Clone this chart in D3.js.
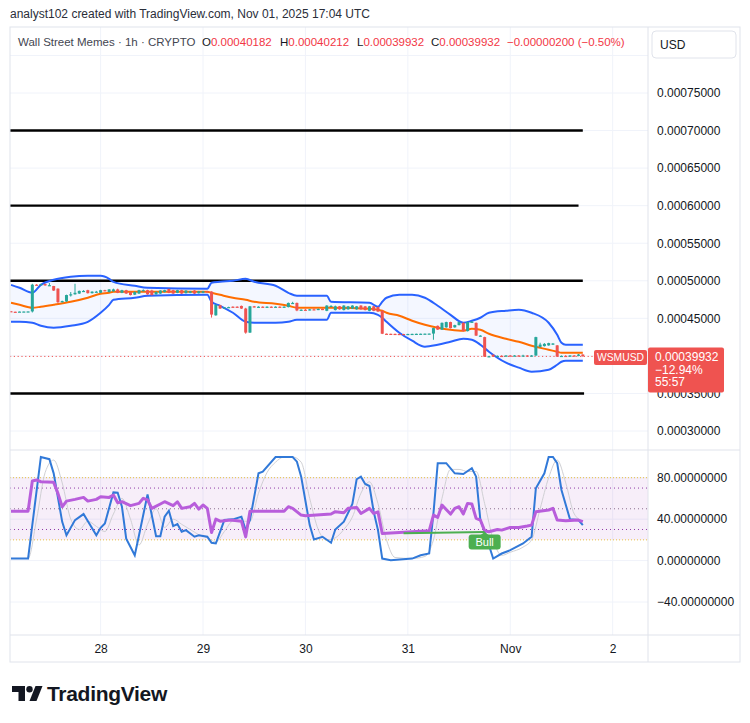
<!DOCTYPE html>
<html>
<head>
<meta charset="utf-8">
<script src="https://cdn.jsdelivr.net/npm/d3@7"></script>
<style>
	body { margin: 0; background: #fff; font-family: "Liberation Sans", Arial, sans-serif; }
	svg text { font-family: "Liberation Sans", Arial, sans-serif; }
</style>
</head>
<body>
<script>
'use strict';

// header texts
var creditText = 'analyst102 created with TradingView.com, Nov 01, 2025 17:04 UTC',
	symbolName = 'Wall Street Memes \u00b7 1h \u00b7 CRYPTO',
	ohlcLabels = ['O', 'H', 'L', 'C'],
	ohlcValues = ['0.00040182', '0.00040212', '0.00039932', '0.00039932'],
	changeText = '\u22120.00000200 (\u22120.50%)',
	lastLabel = ['0.00039932', '\u221212.94%', '55:57'],
	lastPrice = 39932;

// hourly bars, first one at Oct 27 03:00 UTC. prices in 1e-8 USD: [open, high, low, close]
var firstBar = Date.UTC(2025, 9, 27, 3);
var candles = [
	[45950,45980,45870,45880],[45880,45900,45860,45870],[45870,45920,45860,45900],[45900,45930,45880,45910],
	[45910,45940,45890,45920],[45920,49600,45780,49480],[49480,49560,49400,49430],[49430,49600,49400,49560],
	[49560,49620,49350,49380],[49380,49700,49330,49420],[49300,49320,48650,48700],[48950,49000,47000,47150],
	[47150,47350,47100,47300],[47250,48150,47200,48100],[48100,48500,47900,48200],[48200,49600,48150,48400],
	[48300,48700,48250,48650],[48600,48750,48500,48650],[48750,48800,48300,48350],[48350,48600,48300,48550],
	[48500,48650,48450,48550],[48400,48800,48350,48750],[48750,48800,48600,48650],[48500,48900,48450,48850],
	[48600,48950,48550,48850],[48850,48950,48350,48400],[48400,48800,48350,48750],[48750,48800,48250,48300],
	[48500,48550,48050,48100],[48150,48600,48100,48500],[48300,48800,48250,48750],[48700,48850,48650,48750],
	[48750,48800,48150,48200],[48700,48800,48050,48100],[48200,48600,48150,48500],[48300,48750,48250,48700],
	[48500,48800,48450,48750],[48900,48950,48350,48400],[48750,48800,48250,48300],[48400,48800,48350,48750],
	[48750,48800,48250,48300],[48350,48750,48300,48700],[48400,48650,48350,48600],[48700,48750,48250,48300],
	[48350,48650,48300,48600],[48400,48650,48350,48600],[48600,48650,48500,48550],[48550,48600,45100,45500],
	[45400,46850,45350,46800],[46750,46800,46250,46300],[46400,46500,46350,46450],[46450,46550,46400,46500],
	[46550,46600,46450,46500],[46550,46600,46450,46500],[46650,46700,46250,46300],[46300,46400,42950,43100],
	[43100,46650,43050,46600],[46600,46650,46450,46500],[46500,46600,46450,46550],[46550,46600,46450,46500],
	[46500,46600,46450,46550],[46550,46600,46450,46500],[46500,46600,46450,46550],[46550,46600,46450,46500],
	[46500,46600,46450,46550],[46500,47100,46450,47050],[47000,47200,46950,47050],[47050,47100,45950,46050],
	[46050,46200,46000,46150],[46150,46250,46050,46100],[46100,46250,46050,46200],[46200,46300,46100,46150],
	[46150,46300,46100,46250],[46250,46300,46100,46150],[46000,46750,45950,46700],[46600,46750,46550,46650],
	[46100,46700,46050,46600],[46600,46650,46150,46200],[46100,46750,46050,46700],[46200,46650,46150,46600],
	[46300,46750,46250,46700],[46200,46650,46150,46600],[46700,46750,46150,46200],[46600,46650,46050,46100],
	[46000,46650,45950,46600],[46600,46650,45950,46000],[46500,46550,45850,45900],[46000,46050,42900,42950],
	[42950,42980,42920,42940],[42940,42960,42920,42930],[42930,42960,42900,42920],[42920,42950,42900,42910],
	[42910,42940,42890,42900],[42900,42940,42890,42920],[42920,42950,42900,42930],[42930,42960,42910,42940],
	[42940,42970,42920,42950],[42950,42980,42930,42960],[42960,42990,42940,42970],[42970,43750,42150,43700],
	[44000,44050,43450,43500],[43500,44450,43450,44400],[43800,44550,43750,44500],[44500,44550,43650,43700],
	[43800,44150,43750,44100],[44100,44550,44050,44500],[44400,44450,43250,43300],[43300,44550,43250,44500],
	[44500,44650,44450,44550],[44400,44450,42650,42700],[42650,42750,42600,42700],[42500,42550,39850,39900],
	[39900,40000,39850,39950],[40150,40200,39850,39900],[39900,40050,39850,40000],[40000,40100,39950,39950],
	[39950,40100,39900,40050],[40050,40100,39950,40000],[40000,40100,39950,40050],[40050,40100,39950,40000],
	[40000,40150,39950,40050],[40050,40100,39950,40000],[40000,40100,39950,40050],[40050,42550,40000,42500],
	[41200,41750,41100,41500],[41300,41700,41250,41600],[41400,41750,41350,41700],[41600,41700,41450,41650],
	[41400,41450,39850,39900],[39900,40050,39850,40000],[40000,40100,39900,39950],[39950,40100,39900,40050],
	[40050,40100,39950,40000],[40000,40250,39950,40182],[40182,40212,39932,39932]
];

// bollinger bands at these bars
var bandBars = [0,2,5,7,10,14,18,21,23,24,29,32,46,47,49,52,55,57,62,65,67,74,75,84,86,87,88,91,94,97,100,103,106,108,110,112,116,119,122,126,128,129,130,134];
var bandUpper = [49460,49070,48400,49460,50130,50530,50660,50660,50260,49860,49330,49070,48930,49730,49860,
	50000,50260,49860,49330,48400,48000,48000,47200,47070,46540,47200,47740,48130,48130,47740,
	46670,45470,44410,44680,45080,45740,46010,46140,45740,44410,42810,41750,41480,41480];
var bandBasis = [47070,46800,46410,46540,46800,47200,47740,48270,48400,48530,48530,48530,48530,48400,48130,
	47740,47470,47200,46940,46670,46410,46410,46410,46270,46140,46010,45740,45340,44680,44140,
	43750,43480,43350,43610,43480,42950,42280,41880,41350,40820,40550,40420,40420,40420];
var bandLower = [44540,44540,44410,44010,43750,44010,44540,45740,46800,47470,47740,48000,48130,47200,46670,
	45740,44540,44410,44410,44540,44810,44810,45740,45740,45470,45080,44540,43080,42020,41220,
	41480,41880,42280,42150,41480,40550,39090,38430,37890,38160,38820,39220,39360,39360];

// horizontal levels drawn by the author: price and last bar they reach
var levelPrices = [70000, 60000, 50000, 35000],
	levelEnds = [134, 133, 134, 134.3];

// oscillator pane: [bar, value]
var rsiPoints = [[0,47.7],[4,47.7],[5,76.8],[6,77.8],[7,76.1],[10,75.5],[11,64.9],[12,51.9],[13,57.4],[15,59.1],
	[17,61],[18,57.4],[20,59.1],[21,61.6],[23,61],[24,63.3],[25,55.9],[26,56.8],[28,53],[30,55.2],[31,60.1],
	[32,58.5],[33,50.4],[35,54.6],[36,56.8],[38,53],[39,56.8],[40,50.4],[42,52],[43,55.2],[44,49.7],[45,53.6],
	[46,50.4],[47,27.1],[48,40],[49,38],[51,39],[52,39],[54,38],[55,22.9],[56,47.7],[64,47.7],[65,52],[66,50.4],
	[68,43.9],[69,43.3],[75,44.9],[76,47.2],[78,46.2],[79,50.4],[81,51.3],[82,45.5],[84,50.4],[85,45.5],[86,47],
	[87,26.1],[98,28.7],[99,43.9],[100,41.7],[101,53.6],[103,44.9],[104,50.4],[105,52],[106,44.9],[107,55.2],
	[108,54.6],[109,40.7],[110,39.1],[111,28.7],[112,27.8],[114,30],[115,29.4],[117,32],[119,32],[121,33.3],
	[122,34.2],[123,47.1],[126,48.8],[127,50.4],[128,39.1],[130,38.5],[133,39.1],[134,37.5]];
var kPoints = [[0,1.9],[4,1.9],[7,100],[9,97.9],[10,84.2],[12,37.4],[13,24.5],[15,39.1],[17,44.9],[20,24.5],
	[21,31.6],[22,35.8],[24,65.8],[25,65.5],[26,51.9],[27,21.2],[29,5.1],[30,24.5],[32,63.9],[34,23.5],[35,23.5],
	[36,42.3],[37,48.1],[38,33.3],[39,35.2],[40,27.8],[41,29.4],[43,23],[44,24.5],[46,23],[47,17.2],[48,16.5],
	[50,39.1],[52,39.8],[54,42.3],[55,29.4],[56,39.1],[58,84.2],[59,85.8],[62,100],[66,100],[67,95.5],[68,81],
	[70,34.2],[71,20.3],[73,23],[75,17.2],[76,30],[78,37.5],[80,54.6],[81,78.5],[82,81],[83,74],[84,72],[85,47.1],
	[86,29.4],[87,1.9],[89,0.3],[94,1.9],[96,5.1],[98,6.8],[99,45.5],[100,94],[102,94],[104,84.2],[106,83.6],
	[108,89.1],[109,81],[110,39.1],[111,27.8],[113,1.9],[115,6.8],[117,10],[120,16.5],[122,23],[123,69.8],
	[125,84.2],[126,100],[127,100],[128,94],[129,68.2],[131,39.8],[133,39.1],[134,34.2]];
var dPoints = [[0,2],[4,2],[6,40],[8,85],[10,97],[12,75],[14,40],[16,30],[18,38],[20,33],[22,28],[24,45],
	[26,60],[28,40],[30,15],[32,35],[34,50],[36,32],[38,40],[40,35],[42,30],[44,25],[46,22],[48,18],[50,28],
	[52,38],[54,38],[56,38],[58,65],[60,85],[62,95],[64,100],[66,100],[68,95],[70,60],[72,30],[74,20],[76,22],
	[78,30],[80,42],[82,65],[84,76],[86,55],[88,20],[90,3],[94,2],[97,4],[99,20],[101,60],[103,88],[105,88],
	[107,86],[109,86],[111,55],[113,20],[115,5],[117,8],[120,13],[122,20],[124,50],[126,80],[128,97],[130,75],
	[132,45],[134,38]];
var divergence = [[92,26.3],[111,27.6]];

// axis ticks (0.00040000 sits under the last price box and is not shown)
var priceTicks = [30000,35000,45000,50000,55000,60000,65000,70000,75000],
	priceGrid = [30000,35000,40000,45000,50000,55000,60000,65000,70000,75000,80000],
	oscTicks = [80, 40, 0, -40],
	oscLevels = [70, 50, 30],
	oscFillLevels = [80, 20],
	dayTicks = [Date.UTC(2025,9,28), Date.UTC(2025,9,29), Date.UTC(2025,9,30),
		Date.UTC(2025,9,31), Date.UTC(2025,10,1), Date.UTC(2025,10,2)],
	dayLabels = ['28', '29', '30', '31', 'Nov', '2'];

var colors = {
	up: '#26a69a', down: '#ef5350', band: '#2962ff', basis: '#ff6d00',
	rsi: '#b85ddb', k: '#3179d8', d: '#d0d0d4', grid: '#f0f3fa', border: '#e0e3eb', text: '#131722'
};

// layout
var frame = {left: 10, right: 740, top: 27, bottom: 662},
	axisX = 648,
	paneSplit = 450,
	timeTop = 635,
	legendX = [202, 280, 357, 431, 507];

function barDate(i) { return new Date(firstBar + i * 3600e3); }

var x = d3.scaleUtc()
	.domain([barDate(0), barDate(134)])
	.range([11, 582.8]);

var y = d3.scaleLinear()
	.domain([30000, 75000])
	.range([431, 93]);

var yOsc = d3.scaleLinear()
	.domain([-40, 80])
	.range([602, 477.7]);

var svg = d3.select('body').append('svg')
	.attr('width', 750)
	.attr('height', 723);

var defs = svg.append('defs');
defs.append('clipPath').attr('id', 'clipPrice').append('rect')
	.attr('x', frame.left).attr('y', frame.top)
	.attr('width', axisX - frame.left).attr('height', paneSplit - frame.top);
defs.append('clipPath').attr('id', 'clipOsc').append('rect')
	.attr('x', frame.left).attr('y', paneSplit)
	.attr('width', axisX - frame.left).attr('height', timeTop - paneSplit);

// credit line
svg.append('text')
	.attr('x', 10).attr('y', 18)
	.attr('font-size', 12).attr('fill', '#2a2e39')
	.text(creditText);

/*
* Grid lines of both panes.
*/
var grid = svg.append('g');

grid.selectAll('.hgrid')
	.data(priceGrid).enter()
	.append('line')
		.attr('x1', frame.left).attr('x2', axisX)
		.attr('y1', function(d) { return y(d); })
		.attr('y2', function(d) { return y(d); })
		.attr('stroke', colors.grid);

grid.selectAll('.ogrid')
	.data(oscTicks).enter()
	.append('line')
		.attr('x1', frame.left).attr('x2', axisX)
		.attr('y1', function(d) { return yOsc(d); })
		.attr('y2', function(d) { return yOsc(d); })
		.attr('stroke', colors.grid);

grid.selectAll('.vgrid')
	.data(dayTicks).enter()
	.append('line')
		.attr('x1', function(d) { return x(d); })
		.attr('x2', function(d) { return x(d); })
		.attr('y1', frame.top).attr('y2', timeTop)
		.attr('stroke', colors.grid);

/*
* Price pane.
*/
var price = svg.append('g').attr('clip-path', 'url(#clipPrice)');

var bands = bandBars.map(function(b, i) {
	return {t: barDate(b), u: bandUpper[i], m: bandBasis[i], l: bandLower[i]};
});

price.append('path')
	.datum(bands)
	.attr('fill', 'rgba(41,98,255,0.05)')
	.attr('d', d3.area().curve(d3.curveMonotoneX)
		.x(function(d) { return x(d.t); })
		.y0(function(d) { return y(d.l); })
		.y1(function(d) { return y(d.u); }));

// author's horizontal lines
price.selectAll('.level')
	.data(levelPrices).enter()
	.append('line')
		.attr('x1', frame.left)
		.attr('x2', function(d, i) { return x(barDate(levelEnds[i])); })
		.attr('y1', function(d) { return y(d); })
		.attr('y2', function(d) { return y(d); })
		.attr('stroke', '#000')
		.attr('stroke-width', 2.4);

['u', 'l'].forEach(function(key) {
	price.append('path')
		.datum(bands)
		.attr('fill', 'none')
		.attr('stroke', colors.band)
		.attr('stroke-width', 2)
		.attr('d', d3.line().curve(d3.curveMonotoneX)
			.x(function(d) { return x(d.t); })
			.y(function(d) { return y(d[key]); }));
});

price.append('path')
	.datum(bands)
	.attr('fill', 'none')
	.attr('stroke', colors.basis)
	.attr('stroke-width', 2)
	.attr('d', d3.line().curve(d3.curveMonotoneX)
		.x(function(d) { return x(d.t); })
		.y(function(d) { return y(d.m); }));

// last price dotted line
price.append('line')
	.attr('x1', frame.left).attr('x2', axisX)
	.attr('y1', y(lastPrice)).attr('y2', y(lastPrice))
	.attr('stroke', colors.down)
	.attr('stroke-dasharray', '1.2,2.6');

var candle = price.selectAll('.candle')
	.data(candles).enter()
	.append('g')
		.attr('fill', function(d) { return d[3] >= d[0] ? colors.up : colors.down; })
		.attr('stroke', function(d) { return d[3] >= d[0] ? colors.up : colors.down; });

candle.append('line')
	.attr('x1', function(d, i) { return x(barDate(i)); })
	.attr('x2', function(d, i) { return x(barDate(i)); })
	.attr('y1', function(d) { return y(d[1]); })
	.attr('y2', function(d) { return y(d[2]); })
	.attr('stroke-width', 1);

candle.append('rect')
	.attr('stroke', 'none')
	.attr('x', function(d, i) { return x(barDate(i)) - 1.5; })
	.attr('width', 3)
	.attr('y', function(d) { return y(Math.max(d[0], d[3])); })
	.attr('height', function(d) { return Math.max(1.2, Math.abs(y(d[0]) - y(d[3]))); });

/*
* Oscillator pane.
*/
var osc = svg.append('g').attr('clip-path', 'url(#clipOsc)');

osc.append('rect')
	.attr('x', frame.left).attr('width', axisX - frame.left)
	.attr('y', yOsc(oscFillLevels[0]))
	.attr('height', yOsc(oscFillLevels[1]) - yOsc(oscFillLevels[0]))
	.attr('fill', 'rgba(156,39,176,0.08)');

osc.selectAll('.fillLevel')
	.data(oscFillLevels).enter()
	.append('line')
		.attr('x1', frame.left).attr('x2', axisX)
		.attr('y1', function(d) { return yOsc(d); })
		.attr('y2', function(d) { return yOsc(d); })
		.attr('stroke', '#e8c040')
		.attr('stroke-dasharray', '1,2');

osc.selectAll('.oscLevel')
	.data(oscLevels).enter()
	.append('line')
		.attr('x1', frame.left).attr('x2', axisX)
		.attr('y1', function(d) { return yOsc(d); })
		.attr('y2', function(d) { return yOsc(d); })
		.attr('stroke', function(d) { return d == 50 ? '#8a6d8e' : '#8e3ba6'; })
		.attr('stroke-dasharray', '1,3');

var oscLine = d3.line()
	.x(function(d) { return x(barDate(d[0])); })
	.y(function(d) { return yOsc(d[1]); });

osc.append('path').datum(dPoints)
	.attr('fill', 'none').attr('stroke', colors.d).attr('stroke-width', 1)
	.attr('d', oscLine.curve(d3.curveMonotoneX));

osc.append('path').datum(kPoints)
	.attr('fill', 'none').attr('stroke', colors.k).attr('stroke-width', 2)
	.attr('d', oscLine.curve(d3.curveLinear));

osc.append('path').datum(rsiPoints)
	.attr('fill', 'none').attr('stroke', colors.rsi).attr('stroke-width', 3)
	.attr('stroke-linejoin', 'round')
	.attr('d', oscLine);

osc.append('path').datum(divergence)
	.attr('fill', 'none').attr('stroke', '#4caf50').attr('stroke-width', 2)
	.attr('d', oscLine);

// bull label under the divergence end
var bullX = x(barDate(divergence[1][0])),
	bullY = yOsc(divergence[1][1]);

osc.append('path')
	.attr('d', 'M' + (bullX - 4) + ',' + (bullY + 3) + 'l4,-3l4,3z')
	.attr('fill', '#4caf50');
osc.append('rect')
	.attr('x', bullX - 16).attr('y', bullY + 2.5)
	.attr('width', 32).attr('height', 15).attr('rx', 3)
	.attr('fill', '#4caf50');
osc.append('text')
	.attr('x', bullX).attr('y', bullY + 14)
	.attr('text-anchor', 'middle')
	.attr('font-size', 11).attr('fill', '#fff')
	.text('Bull');

/*
* Axes, frame and labels.
*/
function styleAxis(g) {
	g.select('.domain').remove();
	g.selectAll('text')
		.attr('font-size', 12)
		.attr('fill', colors.text)
		.style('font-family', '"Liberation Sans", Arial, sans-serif');
}

svg.append('g')
	.attr('transform', 'translate(' + axisX + ',0)')
	.call(d3.axisRight(y).tickValues(priceTicks).tickSize(0).tickPadding(9)
		.tickFormat(function(d) { return (d / 1e8).toFixed(8); }))
	.call(styleAxis);

svg.append('g')
	.attr('transform', 'translate(' + axisX + ',0)')
	.call(d3.axisRight(yOsc).tickValues(oscTicks).tickSize(0).tickPadding(9)
		.tickFormat(function(d) { return d.toFixed(8).replace('-', '\u2212'); }))
	.call(styleAxis);

svg.append('g')
	.attr('transform', 'translate(0,' + timeTop + ')')
	.call(d3.axisBottom(x).tickValues(dayTicks.map(function(d) { return new Date(d); }))
		.tickSize(0).tickPadding(9)
		.tickFormat(function(d, i) { return dayLabels[i]; }))
	.call(styleAxis);

var frameG = svg.append('g').attr('stroke', colors.border).attr('fill', 'none');
frameG.append('rect')
	.attr('x', frame.left).attr('y', frame.top)
	.attr('width', frame.right - frame.left).attr('height', frame.bottom - frame.top);
frameG.append('line')
	.attr('x1', axisX).attr('x2', axisX).attr('y1', frame.top).attr('y2', frame.bottom);
frameG.append('line')
	.attr('x1', frame.left).attr('x2', frame.right).attr('y1', paneSplit).attr('y2', paneSplit);
frameG.append('line')
	.attr('x1', frame.left).attr('x2', frame.right).attr('y1', timeTop).attr('y2', timeTop);

// currency box
svg.append('rect')
	.attr('x', 652).attr('y', 31).attr('width', 84).attr('height', 27).attr('rx', 4)
	.attr('fill', '#fff').attr('stroke', colors.border);
svg.append('text')
	.attr('x', 660).attr('y', 49)
	.attr('font-size', 12).attr('fill', colors.text)
	.text('USD');

// legend row
svg.append('text')
	.attr('x', 18).attr('y', 46)
	.attr('font-size', 11.5).attr('fill', '#434651')
	.text(symbolName);

ohlcLabels.forEach(function(l, i) {
	var t = svg.append('text')
		.attr('x', legendX[i]).attr('y', 46)
		.attr('font-size', 11.5).attr('fill', colors.text);
	t.append('tspan').text(l);
	t.append('tspan').attr('fill', '#f23645').text(ohlcValues[i]);
});
svg.append('text')
	.attr('x', legendX[4]).attr('y', 46)
	.attr('font-size', 11.5).attr('fill', '#f23645')
	.text(changeText);

// last price labels
var ly = y(lastPrice);
svg.append('rect')
	.attr('x', 594).attr('y', ly - 6.5).attr('width', 53).attr('height', 15).attr('rx', 2)
	.attr('fill', colors.down);
svg.append('text')
	.attr('x', 620.5).attr('y', ly + 4.8)
	.attr('text-anchor', 'middle')
	.attr('font-size', 11).attr('fill', '#fff')
	.attr('textLength', 47).attr('lengthAdjust', 'spacingAndGlyphs')
	.text('WSMUSD');

svg.append('rect')
	.attr('x', axisX).attr('y', ly - 9).attr('width', 76).attr('height', 45).attr('rx', 2)
	.attr('fill', colors.down);
svg.selectAll('.lastText')
	.data(lastLabel).enter()
	.append('text')
		.attr('x', 655)
		.attr('y', function(d, i) { return ly + 5 + i * 12.5; })
		.attr('font-size', 12).attr('fill', '#fff')
		.text(function(d) { return d; });

// TradingView logo
var logo = svg.append('g').attr('fill', colors.text);
logo.append('path').attr('d', 'M12,686h13v15h-6.5v-9h-6.5z');
logo.append('circle').attr('cx', 29.5).attr('cy', 689.2).attr('r', 3.2);
logo.append('path').attr('d', 'M35.5,686h7l-6,15h-7z');
logo.append('text')
	.attr('x', 47).attr('y', 701)
	.attr('font-size', 21).attr('font-weight', 'bold')
	.attr('letter-spacing', -0.3)
	.text('TradingView');
</script>
</body>
</html>
